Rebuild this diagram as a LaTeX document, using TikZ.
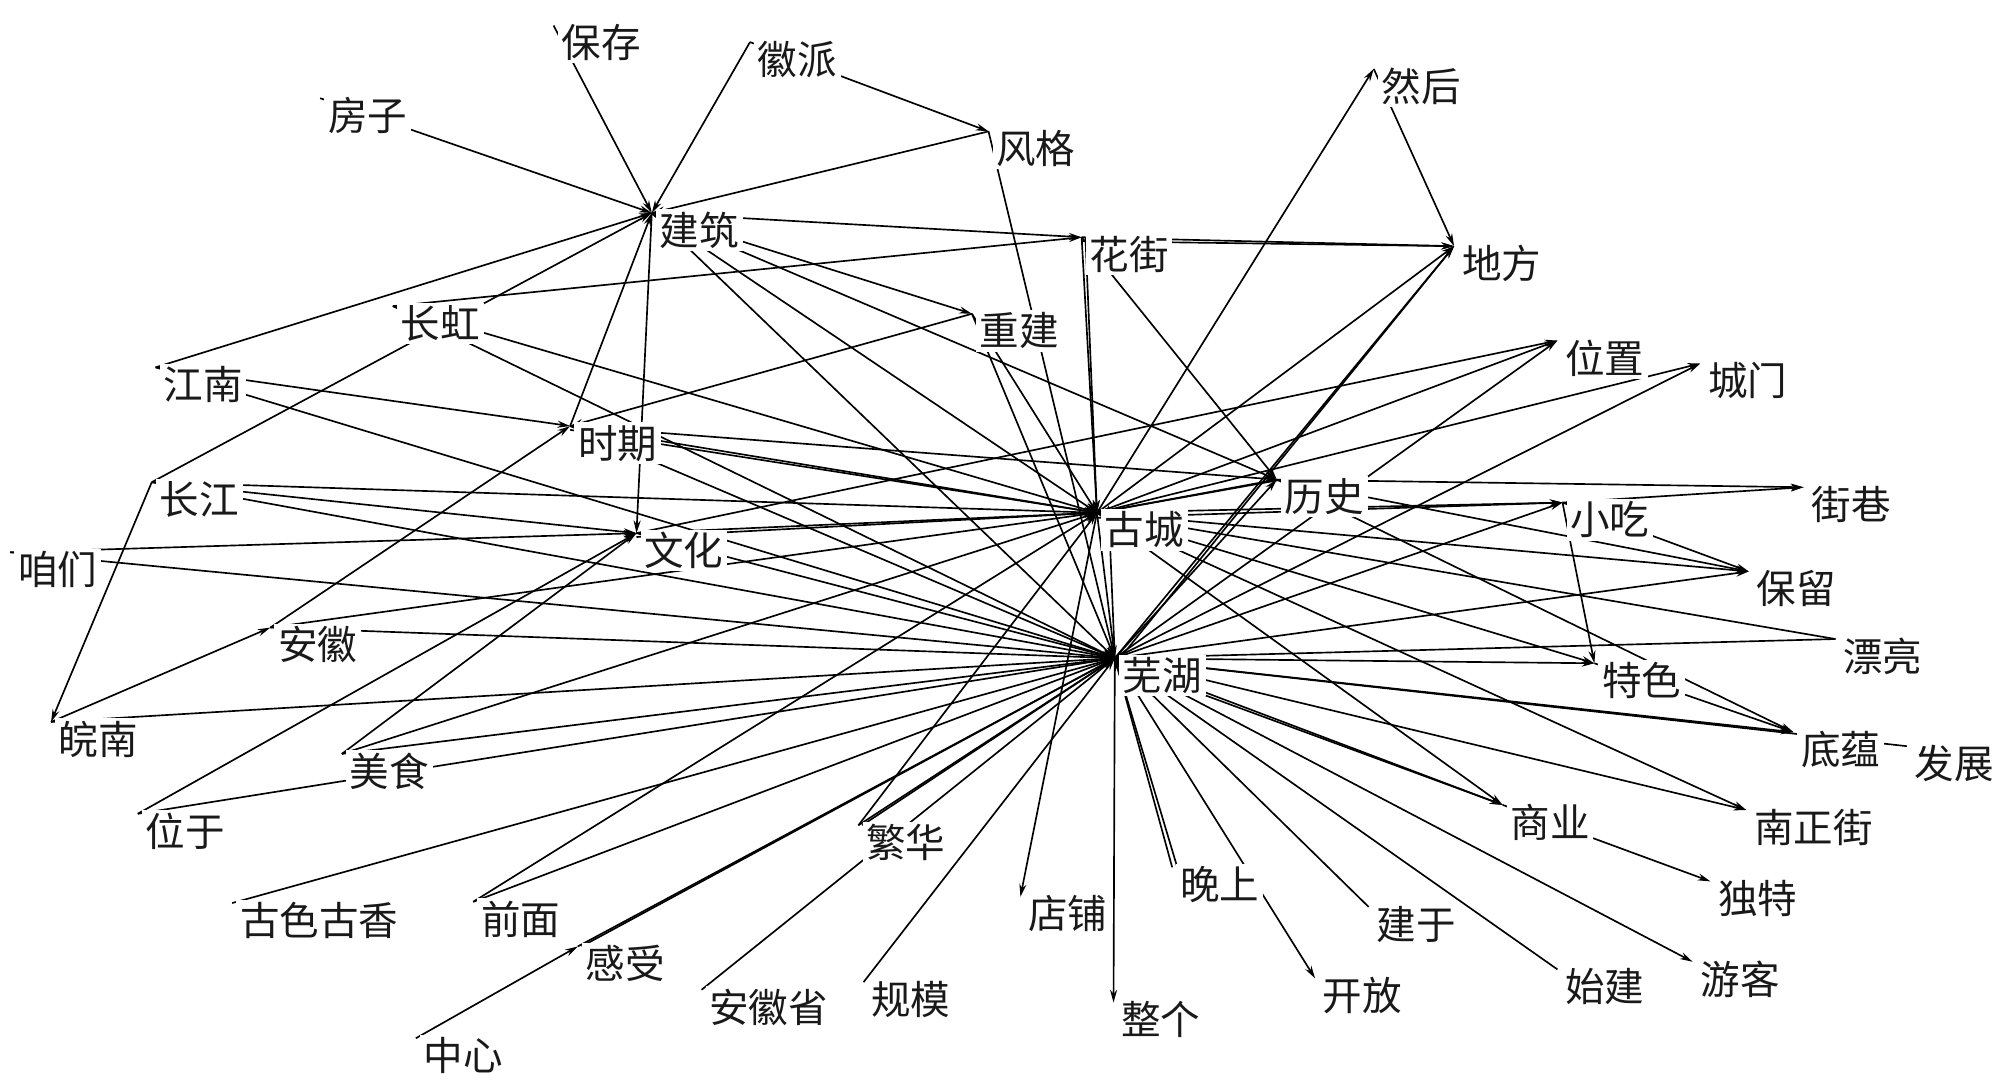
\documentclass[tikz,border=0pt]{standalone}
\usepackage{fontspec}
\setmainfont{Noto Sans CJK SC}
\usetikzlibrary{arrows.meta}
\begin{document}
\begin{tikzpicture}[x=1pt,y=-1pt,
  edge/.style={line width=1.3pt, draw=black, -{Stealth[length=10pt,width=5.5pt]}},
  lbl/.style={anchor=north west, fill=white, inner xsep=3pt, inner ysep=2pt, font=\fontsize{31}{31}\selectfont, text=black!90}]
\fill[white] (0,0) rectangle (1568,852);
\useasboundingbox (0,0) rectangle (1568,852);
% anchor points of the words
\coordinate (jianzhu) at (511,167);
\coordinate (baocun) at (434,20);
\coordinate (huipai) at (588,33);
\coordinate (fangzi) at (251,77);
\coordinate (fengge) at (775,103);
\coordinate (huajie) at (848,186);
\coordinate (chongjian) at (762,246);
\coordinate (ranhou) at (1077,54);
\coordinate (difang) at (1140,193);
\coordinate (changhong) at (308,240);
\coordinate (jiangnan) at (122,288);
\coordinate (weizhi) at (1221,267);
\coordinate (chengmen) at (1333,285);
\coordinate (shiqi) at (447,334);
\coordinate (changjiang) at (119,378);
\coordinate (lishi) at (1001,376);
\coordinate (jiexiang) at (1414,382);
\coordinate (gucheng) at (860,402);
\coordinate (xiaochi) at (1225,394);
\coordinate (wenhua) at (499,418);
\coordinate (zanmen) at (8,433);
\coordinate (baoliu) at (1371,448);
\coordinate (anhui) at (212,492);
\coordinate (piaoliang) at (1439,501);
\coordinate (wuhu) at (874,516);
\coordinate (tese) at (1250,520);
\coordinate (wannan) at (40,566);
\coordinate (diyun) at (1406,574);
\coordinate (fazhan) at (1495,585);
\coordinate (meishi) at (268,591);
\coordinate (weiyu) at (108,638);
\coordinate (nanzhengjie) at (1369,635);
\coordinate (shangye) at (1178,631);
\coordinate (fanhua) at (673,647);
\coordinate (dute) at (1341,691);
\coordinate (dianpu) at (800,703);
\coordinate (wanshang) at (919,680);
\coordinate (guse) at (182,708);
\coordinate (qianmian) at (371,707);
\coordinate (jianyu) at (1073,711);
\coordinate (ganshou) at (453,742);
\coordinate (kaifang) at (1031,767);
\coordinate (shijian) at (1221,760);
\coordinate (youke) at (1327,754);
\coordinate (anhuisheng) at (550,776);
\coordinate (guimo) at (677,770);
\coordinate (zhengge) at (873,786);
\coordinate (zhongxin) at (326,814);
% connectors
\foreach \s/\t in {
 fangzi/jianzhu, baocun/jianzhu, huipai/jianzhu, huipai/fengge, fengge/jianzhu,
 jiangnan/jianzhu, changjiang/jianzhu, shiqi/jianzhu, jianzhu/wenhua, jianzhu/chongjian,
 jianzhu/huajie, jianzhu/gucheng, jianzhu/wuhu, jianzhu/lishi, fengge/wuhu,
 changhong/huajie, huajie/gucheng, huajie/difang, huajie/lishi,
 chongjian/gucheng, chongjian/wuhu, chongjian/shiqi,
 gucheng/ranhou, ranhou/difang, gucheng/difang, wuhu/difang,
 wenhua/weizhi, gucheng/weizhi, wuhu/weizhi, gucheng/chengmen, wuhu/chengmen,
 changjiang/wannan, changjiang/gucheng, changjiang/wenhua, changjiang/wuhu,
 jiangnan/shiqi, jiangnan/wuhu, changhong/gucheng, changhong/wuhu,
 shiqi/lishi, shiqi/gucheng, shiqi/wuhu, anhui/shiqi,
 zanmen/wenhua, zanmen/wuhu, wenhua/gucheng, wenhua/wuhu,
 anhui/gucheng, anhui/wuhu, wannan/anhui, wannan/wuhu,
 weiyu/wenhua, weiyu/wuhu, meishi/wenhua, meishi/gucheng, meishi/wuhu,
 guse/wuhu, qianmian/gucheng, qianmian/wuhu, ganshou/wuhu, zhongxin/ganshou,
 anhuisheng/wuhu, fanhua/gucheng, fanhua/wuhu, guimo/wuhu,
 gucheng/dianpu, wuhu/zhengge, wanshang/wuhu, wuhu/kaifang,
 jianyu/wuhu, shijian/wuhu, wuhu/youke, wuhu/shangye, gucheng/shangye, shangye/dute,
 wuhu/nanzhengjie, gucheng/nanzhengjie, wuhu/diyun, tese/diyun, fazhan/wuhu,
 lishi/diyun, wuhu/tese, xiaochi/tese, gucheng/tese,
 piaoliang/gucheng, piaoliang/wuhu, gucheng/baoliu, wuhu/baoliu, xiaochi/baoliu,
 lishi/baoliu, lishi/jiexiang, xiaochi/jiexiang, gucheng/xiaochi, wuhu/xiaochi,
 lishi/gucheng, wuhu/lishi, gucheng/wuhu}
 \draw[edge] (\s) -- (\t);
% second strokes of the doubled connectors
\draw[edge] ([xshift=3pt]huajie) -- (gucheng);
\draw[edge] ([yshift=-3pt]huajie) -- (difang);
\draw[edge] ([xshift=4pt]wuhu) -- (difang);
\draw[edge] ([yshift=-3pt]shiqi) -- (gucheng);
\draw[edge] ([yshift=-3pt]wenhua) -- (gucheng);
\draw[edge] ([xshift=3pt]ganshou) -- (wuhu);
\draw[edge] ([yshift=-3pt]wuhu) -- (shangye);
\draw[edge] ([xshift=4pt]wanshang) -- (wuhu);
\draw[edge] ([yshift=-4pt]gucheng) -- (xiaochi);
\draw[edge] ([xshift=4pt]lishi) -- (gucheng);
\draw[edge] ([xshift=3pt]fanhua) -- (wuhu);
\draw[edge] (wuhu) -- ([shift={(9,-6)}]gucheng);
% word labels
\foreach \n/\w in {
 jianzhu/建筑, baocun/保存, huipai/徽派, fangzi/房子, fengge/风格, huajie/花街,
 chongjian/重建, ranhou/然后, difang/地方, changhong/长虹, jiangnan/江南, weizhi/位置,
 chengmen/城门, shiqi/时期, changjiang/长江, lishi/历史, jiexiang/街巷, gucheng/古城,
 xiaochi/小吃, wenhua/文化, zanmen/咱们, baoliu/保留, anhui/安徽, piaoliang/漂亮,
 wuhu/芜湖, tese/特色, wannan/皖南, diyun/底蕴, fazhan/发展, meishi/美食, weiyu/位于,
 nanzhengjie/南正街, shangye/商业, fanhua/繁华, dute/独特, dianpu/店铺, wanshang/晚上,
 guse/古色古香, qianmian/前面, jianyu/建于, ganshou/感受, kaifang/开放, shijian/始建,
 youke/游客, anhuisheng/安徽省, guimo/规模, zhengge/整个, zhongxin/中心}
 \node[lbl] (l-\n) at ([shift={(3,-3)}]\n) {\w};
\end{tikzpicture}
\end{document}
